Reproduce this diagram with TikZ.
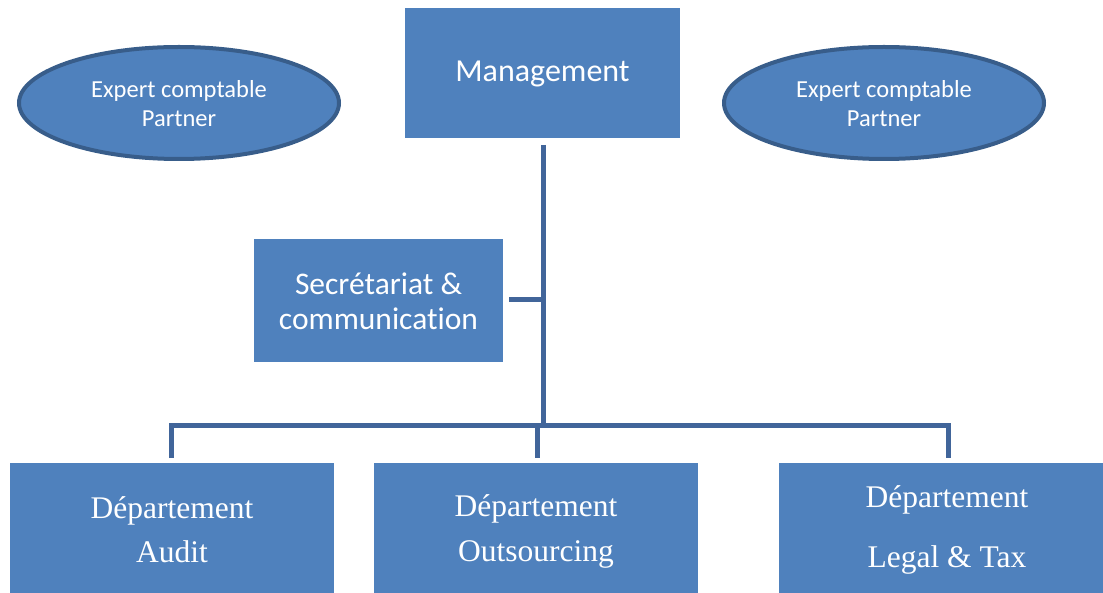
\documentclass[tikz,border=0pt]{standalone}
\usepackage{fontspec}
\setmainfont{Liberation Serif}
\newfontfamily\calib[Ligatures=NoCommon]{Carlito}
\definecolor{boxfill}{HTML}{4F81BD}
\definecolor{boxline}{HTML}{385D8A}
\definecolor{conn}{HTML}{41659A}
\begin{document}
\begin{tikzpicture}[x=1pt,y=-1pt,
  lbl/.style={text=white,align=center,inner sep=0pt},
  ovaltext/.style={lbl,font=\calib\fontsize{24.5}{29}\selectfont},
  conline/.style={draw=conn,line width=5pt}]
\useasboundingbox (0,0) rectangle (1103,593);
% ellipses
\fill[boxfill,draw=boxline,line width=4pt] (179,103) ellipse (160pt and 56pt);
\node[ovaltext] (e1) at (179,104) {Expert comptable\\Partner};
\fill[boxfill,draw=boxline,line width=4pt] (884,103) ellipse (160pt and 56pt);
\node[ovaltext] (e2) at (884,104) {Expert comptable\\Partner};
% management
\fill[boxfill] (405,8) rectangle (680,138);
\node[lbl,font=\calib\fontsize{32}{36}\selectfont] (mgmt) at (542.5,74) {Management};
% secretariat
\fill[boxfill] (254,239) rectangle (503,362);
\node[lbl,font=\calib\fontsize{31.5}{35}\selectfont] (sec) at (378.5,301) {Secrétariat \&\\communication};
% departments
\fill[boxfill] (10,463) rectangle (334,593);
\node[lbl,font=\fontsize{31.5}{44}\selectfont] (audit) at (172,530) {Département\\Audit};
\fill[boxfill] (374,463) rectangle (698,593);
\node[lbl,font=\fontsize{31.5}{45}\selectfont] (out) at (536,531) {Département\\Outsourcing};
\fill[boxfill] (779,463) rectangle (1103,593);
\node[lbl,font=\fontsize{31.5}{60}\selectfont] (legal) at (947,530) {Département\\Legal \& Tax};
% connectors
\coordinate (top) at (543,145);
\coordinate (j1) at (543,300);
\coordinate (s1) at (509,300);
\coordinate (j2) at (543,425);
\coordinate (la) at (171,425);
\coordinate (lb) at (171,458);
\coordinate (ma) at (537,425);
\coordinate (mb) at (537,458);
\coordinate (ra) at (948,425);
\coordinate (rb) at (948,458);
\draw[conline] (top) -- (j2);
\draw[conline] (s1) -- (j1);
\draw[conline] (lb) -- (la) -- (ra) -- (rb);
\draw[conline] (ma) -- (mb);
\end{tikzpicture}
\end{document}
